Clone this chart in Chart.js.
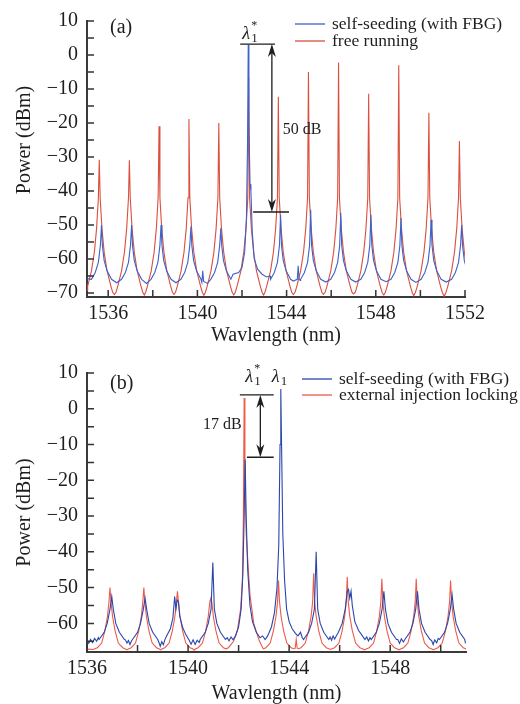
<!DOCTYPE html>
<html>
<head>
<meta charset="utf-8">
<script src="https://cdn.jsdelivr.net/npm/chart.js@4.4.1/dist/chart.umd.min.js"></script>
<style>
  html, body { margin: 0; padding: 0; background: #fff; }
  .wrap { position: absolute; left: 0; width: 520px; }
</style>
</head>
<body>
<div class="wrap" style="top:0;height:350px"><canvas id="chartA" width="520" height="350"></canvas></div>
<div class="wrap" style="top:350px;height:354px"><canvas id="chartB" width="520" height="354"></canvas></div>
<script>
// ---------- panel (a): self-seeding vs free running ----------
const aPeakRedX = [1535.6, 1536.95, 1538.28, 1539.62, 1540.96, 1542.3, 1543.63, 1544.98, 1546.33, 1547.68, 1549.03, 1550.38, 1551.75];
const aPeakRedY = [-30.8, -31, -21, -18.8, -20, -6.5, -12.3, -5, -2.2, -11.4, -3, -17, -25.3];
const aShapeRedDx = [-0.6, -0.52, -0.35, -0.22, -0.12, -0.04, 0.04, 0.12, 0.22, 0.35, 0.52, 0.6];
const aShapeRedY = [-69.8, -68, -63.5, -58, -51, -42, -42, -51, -58, -63.5, -68, -69.8];
const aFloorRed = [[1535.05, -69.2], [1536.28, -70.5], [1537.62, -70.6], [1538.95, -70.4], [1540.29, -70.7],
  [1541.63, -70.6], [1542.97, -70.6], [1544.3, -70.5], [1545.65, -70.4], [1547.0, -70.3],
  [1548.36, -70.6], [1549.7, -70.8], [1551.07, -71.0]];

const aPeakBlueX = [1535.7, 1537.05, 1538.37, 1539.71, 1541.05, 1543.73, 1545.08, 1546.43, 1547.78, 1549.13, 1550.48, 1551.85];
const aPeakBlueY = [-50, -50, -50, -50.5, -51, -47, -45.5, -46.5, -47, -48, -48.5, -50];
const aShapeBlueDx = [-0.45, -0.28, -0.14, -0.05, 0.04, 0.12, 0.25, 0.45];
const aShapeBlueY = [-66, -64, -61, -56, -56, -60.5, -63.5, -66];
const aFloorBlue = [[1535.05, -65.8], [1536.38, -67], [1537.72, -67.2], [1539.04, -67],
  [1540.2, -66.9], [1540.24, -63.5], [1540.28, -66.6], [1540.45, -67.2],
  [1541.6, -64.5], [1541.85, -64], [1542.0, -62.5], [1542.12, -58], [1542.2, -48], [1542.25, -25],
  [1542.28, 3], [1542.31, -20], [1542.36, -38], [1542.4, -40], [1542.46, -52], [1542.55, -60],
  [1542.7, -63], [1542.9, -64.5], [1543.1, -65.3], [1543.26, -65],
  [1544.3, -66.5], [1544.48, -66], [1544.52, -62], [1544.56, -66], [1544.62, -66.3],
  [1545.76, -66.8], [1547.1, -66.8], [1548.46, -66.7], [1549.8, -66.9], [1551.16, -66.8]];

// ---------- panel (b): self-seeding vs external injection locking ----------
const bPeakRedX = [1536.91, 1538.25, 1539.58, 1540.9, 1543.58, 1544.97, 1546.3, 1547.67, 1549.03, 1550.39];
const bPeakRedY = [-50, -50, -51, -53, -48, -46, -47, -47.5, -47.5, -48];
const bShapeRedDx = [-0.6, -0.5, -0.33, -0.2, -0.1, -0.04, 0.04, 0.1, 0.2, 0.33, 0.5, 0.6];
const bShapeRedY = [-67.1, -66.8, -65.5, -62, -58, -54, -54, -58, -62, -65.5, -66.8, -67.1];
const bFloorRed = [[1536.0, -67.2], [1536.25, -67.3], [1537.58, -67.4], [1538.92, -67.4], [1540.24, -67.5],
  [1541.6, -66.8], [1541.8, -65], [1541.95, -62], [1542.08, -56], [1542.15, -48],
  [1542.19, -30], [1542.22, 3], [1542.25, -20], [1542.3, -35], [1542.36, -42], [1542.45, -52],
  [1542.6, -60], [1542.8, -64.5], [1542.92, -66.3], [1542.96, -66.9],
  [1544.24, -67], [1544.28, -64.5], [1544.32, -67], [1545.64, -67.3], [1546.98, -67.4],
  [1548.35, -67.4], [1549.71, -67.4], [1551.0, -67]];

const bPeakBlueX = [1536.98, 1538.3, 1540.98, 1545.07, 1547.75, 1549.08, 1550.45];
const bPeakBlueY = [-52.5, -53, -43, -40, -51, -51, -52];
const bShapeBlueDx = [-0.5, -0.3, -0.18, -0.07, 0.06, 0.16, 0.3, 0.5];
const bShapeBlueY = [-64.5, -62.5, -60, -56, -56, -60, -62.5, -64.5];
const bFloorBlue = [
  [1536.0, -64.8], [1536.07, -65.6], [1536.14, -64.5], [1536.22, -65.4], [1536.3, -64.2], [1536.38, -65.0], [1536.45, -64.0],
  [1537.52, -64.6], [1537.58, -65.5], [1537.64, -64.8], [1537.7, -65.9], [1537.76, -64.9],
  [1538.84, -65.2], [1538.9, -66.4], [1538.96, -65.1], [1539.02, -66.0], [1539.08, -64.6],
  [1539.15, -63.5], [1539.3, -61.5], [1539.4, -58.5], [1539.47, -52.5], [1539.52, -56], [1539.57, -53.5],
  [1539.62, -54], [1539.67, -58], [1539.78, -61], [1539.9, -63], [1540.05, -64.8],
  [1540.12, -65.8], [1540.2, -64.6], [1540.28, -65.9], [1540.36, -64.7], [1540.44, -65.3],
  [1541.55, -64.0], [1541.62, -64.9], [1541.7, -63.8], [1541.78, -64.6],
  [1541.88, -63.5], [1542.0, -61], [1542.1, -56], [1542.17, -46], [1542.22, -30], [1542.26, -14.2],
  [1542.3, -30], [1542.36, -45], [1542.45, -55], [1542.55, -59.5], [1542.7, -62.5], [1542.85, -64],
  [1542.95, -63.5], [1543.05, -64.5],
  [1543.15, -63.5], [1543.3, -61], [1543.42, -57], [1543.52, -50], [1543.59, -38], [1543.64, -10],
  [1543.67, 5.5], [1543.7, -10], [1543.75, -35], [1543.82, -48], [1543.9, -56], [1544.0, -59.5],
  [1544.12, -61.5], [1544.25, -62.8], [1544.35, -63.5], [1544.45, -62.5], [1544.52, -64],
  [1545.62, -63.8], [1545.68, -64.7], [1545.74, -63.5], [1545.8, -64.4], [1545.86, -63.6],
  [1545.95, -62.5], [1546.1, -60], [1546.22, -56], [1546.3, -51], [1546.35, -50.5], [1546.4, -53],
  [1546.45, -51], [1546.5, -55], [1546.6, -59.5], [1546.75, -62], [1546.9, -63.5], [1547.0, -64.5],
  [1547.07, -63.8], [1547.14, -64.9], [1547.2, -64.0],
  [1548.3, -64.5], [1548.37, -65.6], [1548.44, -64.3], [1548.52, -65.2],
  [1549.64, -64.8], [1549.7, -65.9], [1549.76, -64.6], [1549.84, -65.4], [1549.9, -64.2],
  [1550.98, -65.6]];

const FONT = '"Liberation Serif", "DejaVu Serif", serif';
const INK = '#1e1e1e';

// merge peak tops, the line shape read around each peak and the floor points
function spectrum(peakX, peakY, shapeDx, shapeY, floor) {
  const pts = floor.map(p => ({ x: p[0], y: p[1] }));
  peakX.forEach((px, i) => {
    pts.push({ x: px, y: peakY[i] });
    shapeDx.forEach((dx, j) => pts.push({ x: +(px + dx).toFixed(3), y: shapeY[j] }));
  });
  return pts.sort((a, b) => a.x - b.x);
}

function arrowHead(ctx, x, y, dir) {
  ctx.beginPath();
  ctx.moveTo(x, y);
  ctx.lineTo(x - 4, y + dir * 13);
  ctx.lineTo(x, y + dir * 9);
  ctx.lineTo(x + 4, y + dir * 13);
  ctx.closePath();
  ctx.fill();
}

function lambda(ctx, x, y, star) {
  ctx.textAlign = 'center';
  ctx.textBaseline = 'middle';
  ctx.font = 'italic 18px ' + FONT;
  ctx.fillText('λ', x, y);
  ctx.textAlign = 'left';
  ctx.font = '13px ' + FONT;
  ctx.fillText('1', x + 5, y + 5);
  if (star) {
    ctx.font = '12px ' + FONT;
    ctx.fillText('*', x + 5, y - 8);
  }
}

// inward ticks, annotations, legend and y title
const decor = {
  id: 'decor',
  afterDraw(chart, args, o) {
    const { ctx, chartArea: ca, scales: { x, y } } = chart;
    const X = v => x.getPixelForValue(v), Y = v => y.getPixelForValue(v);
    ctx.save();
    ctx.strokeStyle = '#333';
    ctx.lineWidth = 1.5;
    ctx.beginPath();
    x.ticks.forEach(t => { ctx.moveTo(X(t.value), ca.bottom); ctx.lineTo(X(t.value), ca.bottom - 7); });
    y.ticks.forEach(t => { ctx.moveTo(ca.left, Y(t.value)); ctx.lineTo(ca.left + 7, Y(t.value)); });
    ctx.stroke();

    ctx.fillStyle = INK;
    ctx.strokeStyle = INK;
    ctx.lineWidth = 1.3;
    ctx.beginPath();
    o.hLines.forEach(l => { ctx.moveTo(X(l[0]), Y(l[2])); ctx.lineTo(X(l[1]), Y(l[2])); });
    const ax = X(o.arrow[0]), ay0 = Y(o.arrow[1]), ay1 = Y(o.arrow[2]);
    ctx.moveTo(ax, ay0 + 9);
    ctx.lineTo(ax, ay1 - 9);
    ctx.stroke();
    arrowHead(ctx, ax, ay0, 1);
    arrowHead(ctx, ax, ay1, -1);

    ctx.font = '16px ' + FONT;
    ctx.textBaseline = 'middle';
    ctx.textAlign = o.dbAlign;
    ctx.fillText(o.dbText, X(o.dbAt[0]), Y(o.dbAt[1]));
    o.lambdas.forEach(l => lambda(ctx, X(l[0]), Y(l[1]), l[2]));

    ctx.font = '20px ' + FONT;
    ctx.textAlign = 'left';
    ctx.textBaseline = 'middle';
    ctx.fillText(o.tag, o.tagAt[0], o.tagAt[1]);

    // legend
    chart.data.datasets.forEach((ds, i) => {
      const ly = o.legend[1] + i * o.legend[2];
      ctx.strokeStyle = ds.borderColor;
      ctx.lineWidth = 1.3;
      ctx.beginPath();
      ctx.moveTo(o.legend[0], ly);
      ctx.lineTo(o.legend[0] + 30, ly);
      ctx.stroke();
      ctx.fillStyle = INK;
      ctx.font = '17.5px ' + FONT;
      ctx.fillText(ds.label, o.legend[0] + 37, ly);
    });

    ctx.translate(25, Y(o.yTitleAt));
    ctx.rotate(-Math.PI / 2);
    ctx.textAlign = 'center';
    ctx.font = '20px ' + FONT;
    ctx.fillText('Power (dBm)', 0, 0);
    ctx.restore();
  }
};

function panel(id, d) {
  new Chart(document.getElementById(id), {
    type: 'line',
    data: {
      datasets: [
        { label: 'self-seeding (with FBG)', data: d.blue, borderColor: d.blueColor, borderWidth: 1.1, pointRadius: 0, tension: 0 },
        { label: d.redLabel, data: d.red, borderColor: d.redColor, borderWidth: 1.1, pointRadius: 0, tension: 0 }
      ]
    },
    options: {
      responsive: false,
      animation: false,
      layout: { padding: { top: d.padTop, right: d.padRight, left: 0, bottom: 0 } },
      plugins: { legend: { display: false }, tooltip: { enabled: false }, decor: d.decor },
      scales: {
        x: {
          type: 'linear', min: d.xMin, max: d.xMax,
          border: { color: '#3a3a3a', width: 2 },
          grid: { display: false, drawTicks: false },
          ticks: {
            stepSize: 2, includeBounds: false, autoSkip: false, maxRotation: 0, padding: 5,
            color: INK, font: { family: FONT, size: 20 },
            callback: v => ((v - 1536) % 4 === 0 ? String(v) : '')
          },
          title: { display: true, text: 'Wavlength (nm)', color: INK, font: { family: FONT, size: 20, lineHeight: 1 }, padding: { top: 0, bottom: d.titlePad } },
          afterFit: s => { s.height = d.xHeight; }
        },
        y: {
          min: d.yMin, max: 10,
          border: { color: '#3a3a3a', width: 2 },
          grid: { display: false, drawTicks: false },
          ticks: {
            stepSize: 5, includeBounds: false, autoSkip: false, padding: 9,
            color: INK, font: { family: FONT, size: 20 },
            callback: v => (v % 10 === 0 ? (v < 0 ? '\u2212' + Math.abs(v) : String(v)) : '')
          },
          afterFit: s => { s.width = 87; }
        }
      }
    },
    plugins: [decor]
  });
}

panel('chartA', {
  blue: spectrum(aPeakBlueX, aPeakBlueY, aShapeBlueDx, aShapeBlueY, aFloorBlue),
  red: spectrum(aPeakRedX, aPeakRedY, aShapeRedDx, aShapeRedY, aFloorRed),
  redLabel: 'free running', blueColor: '#3d62c9', redColor: '#d9503f',
  xMin: 1535.05, xMax: 1552, yMin: -71.2, padTop: 16, padRight: 55, xHeight: 53, titlePad: 4,
  decor: {
    hLines: [[1541.92, 1543.48, 3.2], [1542.5, 1544.11, -46.2]],
    arrow: [1543.34, 3.2, -46.2],
    dbText: '50 dB', dbAt: [1543.83, -22], dbAlign: 'left',
    lambdas: [[1542.19, 6.2, true]],
    tag: '(a)', tagAt: [110, 28],
    legend: [295, 24, 17],
    yTitleAt: -25
  }
});

panel('chartB', {
  blue: spectrum(bPeakBlueX, bPeakBlueY, bShapeBlueDx, bShapeBlueY, bFloorBlue),
  red: spectrum(bPeakRedX, bPeakRedY, bShapeRedDx, bShapeRedY, bFloorRed),
  redLabel: 'external injection locking', blueColor: '#2a46aa', redColor: '#ee5a4a',
  xMin: 1536, xMax: 1551, yMin: -68, padTop: 23, padRight: 54, xHeight: 52, titlePad: 0,
  decor: {
    hLines: [[1542.05, 1543.39, 3.87], [1542.33, 1543.39, -13.56]],
    arrow: [1542.86, 3.87, -13.56],
    dbText: '17 dB', dbAt: [1542.12, -4.5], dbAlign: 'right',
    lambdas: [[1542.42, 8.9, true], [1543.47, 8.9, false]],
    tag: '(b)', tagAt: [110, 34],
    legend: [302, 29, 16],
    yTitleAt: -29
  }
});
</script>
</body>
</html>
